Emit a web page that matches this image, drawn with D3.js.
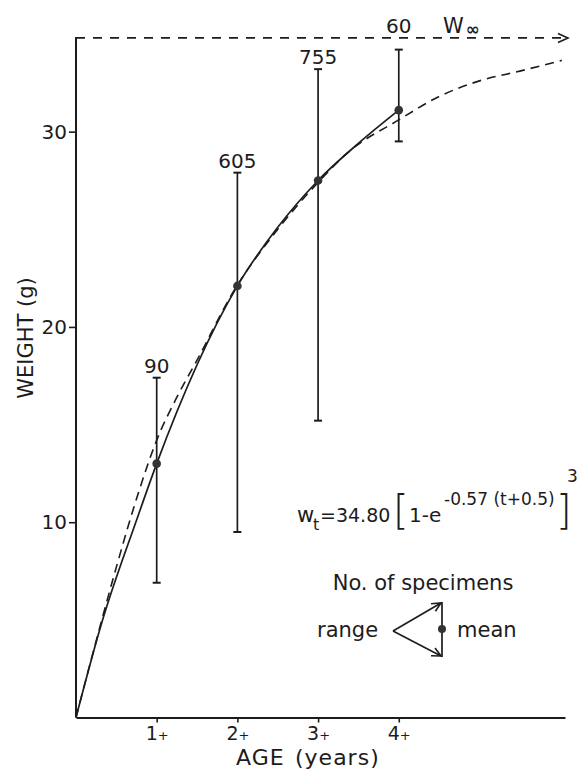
<!DOCTYPE html>
<html><head><meta charset="utf-8">
<script src="https://cdn.jsdelivr.net/npm/d3@7"></script>
<style>
body{margin:0;background:#fff}
svg{display:block}
text{font-family:"DejaVu Sans",sans-serif;fill:#1c1c1c}
</style>
</head><body>
<svg id="c" width="579" height="772"></svg>
<script>
// ---- data ----
const ages = [1, 2, 3, 4];
const ageLabels = ["1", "2", "3", "4"];
const meanWeight = [13.0, 22.1, 27.5, 31.1];
const minWeight = [6.9, 9.5, 15.2, 29.5];
const maxWeight = [17.4, 27.9, 33.2, 34.2];
const specimens = [90, 605, 755, 60];
const yTicks = [10, 20, 30];
const wInf = 34.8;
// observed growth curve (solid)
const observedAge = [0, 0.33, 0.75, 1, 2, 2.5, 3, 3.5, 4];
const observedWeight = [0, 5.0, 10.1, 13.0, 22.1, 25.1, 27.5, 29.4, 31.1];
// fitted von Bertalanffy curve (dashed), as drawn
const fittedAge = [0, 0.21, 0.5, 0.75, 1.0, 1.25, 1.5, 1.95, 2.5, 3.0, 3.36, 4.0, 4.5, 5.0, 5.5, 6.02];
const fittedWeight = [0, 3.3, 7.7, 11.2, 14.2, 16.4, 18.3, 21.8, 25.0, 27.4, 28.9, 30.6, 31.8, 32.6, 33.1, 33.65];

const ink = "#1c1c1c";
const svg = d3.select("#c");
const x = d3.scaleLinear().domain([0, 6.06]).range([76, 565]);
const y = d3.scaleLinear().domain([0, 35]).range([717.5, 34]);

// y axis
const gy = svg.append("g").attr("transform", `translate(${x(0)},0)`)
  .call(d3.axisLeft(y).tickValues(yTicks).tickSize(7).tickPadding(2).tickFormat(d3.format("d")));
gy.select(".domain").remove();
gy.selectAll(".tick line").attr("stroke", ink).attr("stroke-width", 1.6);
gy.selectAll(".tick text").attr("font-size", 20).attr("font-family", "DejaVu Sans").attr("fill", ink);
svg.append("line").attr("x1", x(0)).attr("x2", x(0)).attr("y1", y(0)).attr("y2", y(wInf) - 1)
  .attr("stroke", ink).attr("stroke-width", 2);

// x axis
const gx = svg.append("g").attr("transform", `translate(0,${y(0)})`)
  .call(d3.axisBottom(x).tickValues(ages).tickSize(5).tickSizeOuter(0).tickPadding(4).tickFormat(""));
gx.select(".domain").attr("stroke", ink).attr("stroke-width", 2);
gx.selectAll(".tick line").attr("stroke", ink).attr("stroke-width", 1.6);
gx.selectAll(".tick text").each(function(d, i) {
  const t = d3.select(this).attr("font-size", 19).attr("font-family", "DejaVu Sans").attr("fill", ink);
  t.append("tspan").text(ageLabels[i]);
  t.append("tspan").attr("font-size", 13).text("+");
});

// axis titles
svg.append("text").attr("transform", `translate(33,338) rotate(-90)`)
  .attr("text-anchor", "middle").attr("font-size", 21).text("WEIGHT (g)");
svg.append("text").attr("x", 236).attr("y", 765).attr("font-size", 22).attr("letter-spacing", 1).text("AGE");
svg.append("text").attr("x", 295).attr("y", 765).attr("font-size", 22).attr("letter-spacing", 1).text("(years)");

// W-infinity asymptote
svg.append("line").attr("x1", x(0)).attr("x2", 566).attr("y1", y(wInf)).attr("y2", y(wInf))
  .attr("stroke", ink).attr("stroke-width", 1.6).attr("stroke-dasharray", "9,8");
svg.append("path").attr("d", `M558,${y(wInf) - 4.5}L568,${y(wInf)}L558,${y(wInf) + 4.5}`)
  .attr("fill", "none").attr("stroke", ink).attr("stroke-width", 1.6);
const wl = svg.append("text").attr("x", 443).attr("y", 33).attr("font-size", 21);
wl.append("tspan").text("W");
wl.append("tspan").attr("font-size", 17).attr("font-weight", "bold").attr("dy", 2).attr("dx", 2).text("∞");

// curves
const line = d3.line().x(d => x(d[0])).y(d => y(d[1])).curve(d3.curveMonotoneX);
svg.append("path").datum(fittedAge.map((a, i) => [a, fittedWeight[i]]))
  .attr("d", line).attr("fill", "none").attr("stroke", ink).attr("stroke-width", 1.6)
  .attr("stroke-dasharray", "9,6");
svg.append("path").datum(observedAge.map((a, i) => [a, observedWeight[i]]))
  .attr("d", line).attr("fill", "none").attr("stroke", ink).attr("stroke-width", 1.7);

// error bars
const bars = svg.append("g");
ages.forEach((a, i) => {
  const cx = x(a);
  bars.append("line").attr("x1", cx).attr("x2", cx).attr("y1", y(minWeight[i])).attr("y2", y(maxWeight[i]))
    .attr("stroke", ink).attr("stroke-width", 1.7);
  [minWeight[i], maxWeight[i]].forEach(v => {
    bars.append("line").attr("x1", cx - 4).attr("x2", cx + 4).attr("y1", y(v)).attr("y2", y(v))
      .attr("stroke", ink).attr("stroke-width", 2);
  });
  bars.append("circle").attr("cx", cx).attr("cy", y(meanWeight[i])).attr("r", 4.3).attr("fill", "#333");
  let ly = y(maxWeight[i]) - 5;
  if (ly - 16 < y(wInf)) ly = y(wInf) - 5;   // label would cross the W-infinity line: put it above
  bars.append("text").attr("x", cx).attr("y", ly)
    .attr("text-anchor", "middle").attr("font-size", 20).text(specimens[i]);
});

// equation
const eq = svg.append("g");
eq.append("text").attr("x", 297).attr("y", 522).attr("font-size", 21).text("w");
eq.append("text").attr("x", 313).attr("y", 530).attr("font-size", 16).text("t");
eq.append("text").attr("x", 320).attr("y", 522).attr("font-size", 19).text("=34.80");
eq.append("text").attr("x", 393).attr("y", 524).attr("font-size", 40).attr("font-weight", "200").text("[");
eq.append("text").attr("x", 409).attr("y", 522).attr("font-size", 20).text("1-e");
eq.append("text").attr("x", 444).attr("y", 505).attr("font-size", 17).text("-0.57 (t+0.5)");
eq.append("text").attr("x", 556).attr("y", 524).attr("font-size", 40).attr("font-weight", "200").text("]");
eq.append("text").attr("x", 567).attr("y", 482).attr("font-size", 17).text("3");

// legend
const lg = svg.append("g");
lg.append("text").attr("x", 423).attr("y", 590).attr("text-anchor", "middle").attr("font-size", 21).text("No. of specimens");
lg.append("text").attr("x", 317).attr("y", 637).attr("font-size", 21).text("range");
lg.append("text").attr("x", 457).attr("y", 637).attr("font-size", 21).text("mean");
const bx = 442, bt = 602, bb = 657, ax = 393, ay = 631;
lg.append("line").attr("x1", bx).attr("x2", bx).attr("y1", bt).attr("y2", bb).attr("stroke", ink).attr("stroke-width", 1.7);
lg.append("circle").attr("cx", bx).attr("cy", 629).attr("r", 4).attr("fill", "#333");
[[bx - 1, bt + 1], [bx - 1, bb - 1]].forEach(([ex, ey]) => {
  lg.append("line").attr("x1", ax).attr("y1", ay).attr("x2", ex).attr("y2", ey).attr("stroke", ink).attr("stroke-width", 1.6);
  const ang = Math.atan2(ey - ay, ex - ax), L = 10, s = 0.45;
  lg.append("path").attr("d",
    `M${ex - L * Math.cos(ang - s)},${ey - L * Math.sin(ang - s)}L${ex},${ey}L${ex - L * Math.cos(ang + s)},${ey - L * Math.sin(ang + s)}`)
    .attr("fill", "none").attr("stroke", ink).attr("stroke-width", 1.6);
});
</script>
</body></html>
